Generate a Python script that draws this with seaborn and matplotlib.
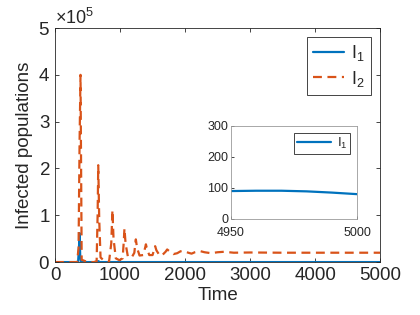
import numpy as np
import pandas as pd
import matplotlib
matplotlib.use("Agg")
import matplotlib.pyplot as plt
import seaborn as sns

# ── data ──────────────────────────────────────────────────────
# I2 in units of 1e5
t_i2 = [0, 340, 362, 378, 392, 410, 500, 600, 640, 655, 665, 680, 700, 760,
        830, 865, 883, 900, 935, 990, 1040, 1058, 1068, 1085, 1120, 1180,
        1220, 1235, 1243, 1262, 1300, 1355, 1385, 1398, 1415, 1450, 1500,
        1528, 1540, 1560, 1610, 1650, 1700, 1725, 1760, 1820, 1880, 1930,
        1970, 2050, 2100, 2150, 2230, 2300, 2400, 2500, 2600, 2750, 3000,
        3500, 4000, 4500, 5000]
i2 = [0.0, 0.0, 0.3, 2.6, 4.0, 0.05, 0.0, 0.0, 0.02, 1.0, 2.07, 0.9, 0.1, 0.02,
      0.0, 0.4, 1.11, 0.5, 0.08, 0.04, 0.08, 0.45, 0.72, 0.4, 0.12, 0.1,
      0.2, 0.4, 0.485, 0.3, 0.14, 0.15, 0.3, 0.38, 0.28, 0.15, 0.15,
      0.28, 0.34, 0.25, 0.14, 0.15, 0.22, 0.27, 0.23, 0.17, 0.19, 0.23,
      0.24, 0.2, 0.18, 0.21, 0.235, 0.21, 0.19, 0.21, 0.22, 0.2, 0.205,
      0.2, 0.2, 0.2, 0.2]

# I1 in units of 1e5
t_i1 = [0, 355, 368, 378, 388, 400, 640, 665, 690, 5000]
i1 = [0.0, 0.0, 0.3, 0.62, 0.1, 0.0, 0.0, 0.02, 0.0, 0.0]

# inset: I1 near the end of the run
t_zoom = [4950, 4960, 4970, 4980, 4990, 5000]
i1_zoom = [90, 91, 91, 89, 85, 80]

scale = 1e5
blue = "#0072BD"
orange = "#D95319"

sns.set_style("ticks")
plt.rcParams["font.family"] = ["Liberation Sans", "DejaVu Sans"]
plt.rcParams["mathtext.fontset"] = "custom"
plt.rcParams["mathtext.rm"] = "Liberation Sans"
plt.rcParams["mathtext.it"] = "Liberation Sans"

df1 = pd.DataFrame({"Time": t_i1, "value": np.array(i1) * scale})
df2 = pd.DataFrame({"Time": t_i2, "value": np.array(i2) * scale})
dfz = pd.DataFrame({"Time": t_zoom, "value": i1_zoom})

fig = plt.figure(figsize=(4.2, 3.15), dpi=100)
ax = fig.add_axes([0.131, 0.168, 0.774, 0.743])

sns.lineplot(data=df1, x="Time", y="value", ax=ax, color=blue, lw=1.6,
             label="I$_1$")
sns.lineplot(data=df2, x="Time", y="value", ax=ax, color=orange, lw=1.6,
             linestyle="--", label="I$_2$")
ax.lines[1].set_dashes([4, 2.5])

ax.set_xlim(0, 5000)
ax.set_ylim(0, 5e5)
ax.set_xticks([0, 1000, 2000, 3000, 4000, 5000])
ax.set_yticks([0, 1e5, 2e5, 3e5, 4e5, 5e5])
fmt = matplotlib.ticker.ScalarFormatter(useMathText=True)
fmt.set_powerlimits((0, 0))
ax.yaxis.set_major_formatter(fmt)
ax.yaxis.get_offset_text().set_fontsize(13)
ax.tick_params(direction="in", length=3, labelsize=13.5, top=True, right=True,
               color="#262626", width=0.6)
for s in ax.spines.values():
    s.set_visible(True)
    s.set_linewidth(0.6)
    s.set_color("#262626")
ax.set_xlabel("Time", fontsize=13.5, labelpad=2)
ax.set_ylabel("Infected populations", fontsize=13.5, labelpad=4)
leg = ax.legend(loc="upper right", fontsize=13, handlelength=1.7,
                fancybox=False, framealpha=1, edgecolor="#262626",
                borderaxespad=0.5, labelspacing=0.3, borderpad=0.35,
                handletextpad=0.4)
leg.get_frame().set_linewidth(0.6)

# inset
axin = fig.add_axes([0.55, 0.305, 0.30, 0.295])
sns.lineplot(data=dfz, x="Time", y="value", ax=axin, color=blue, lw=1.6,
             label="I$_1$")
axin.set_xlim(4950, 5000)
axin.set_ylim(0, 300)
axin.set_xticks([4950, 5000])
axin.set_yticks([0, 100, 200, 300])
axin.set_xlabel("")
axin.set_ylabel("")
axin.tick_params(direction="in", length=2, labelsize=9, color="#262626",
                 width=0.6, pad=2)
axin.tick_params(axis="x", pad=6)
for s in axin.spines.values():
    s.set_visible(True)
    s.set_linewidth(0.6)
    s.set_color("#9a9a9a")
lg = axin.legend(loc="upper right", fontsize=9.5, handlelength=2.6,
                 fancybox=False, framealpha=1, edgecolor="#262626",
                 borderaxespad=0.5, borderpad=0.25, handletextpad=0.4)
lg.get_frame().set_linewidth(0.6)

fig.savefig("out.png", dpi=100)
